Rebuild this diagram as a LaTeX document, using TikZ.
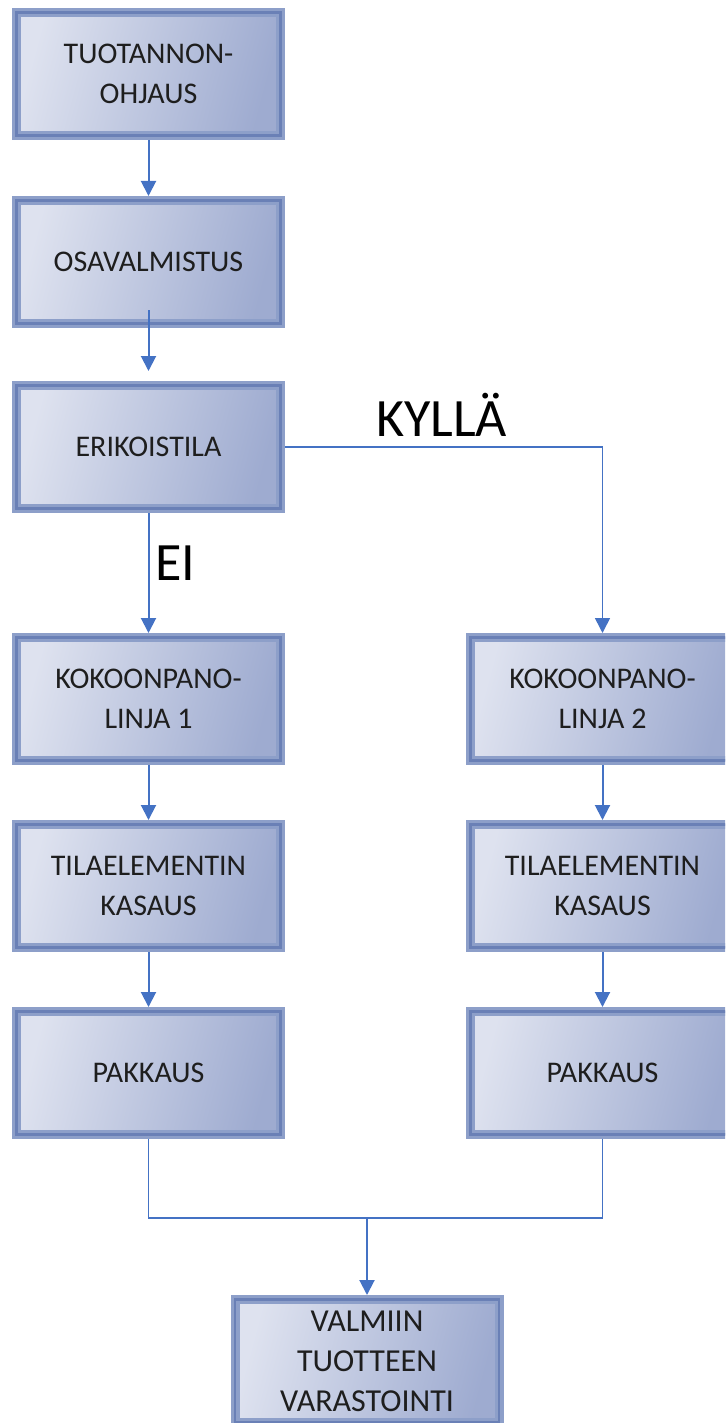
\documentclass[tikz,border=0pt]{standalone}
\usepackage{fontspec}
\setmainfont{Carlito}
\usetikzlibrary{arrows.meta,positioning}
\definecolor{boxLight}{HTML}{DEE2EF}
\definecolor{boxDark}{HTML}{9EABD0}
\definecolor{boxBand}{HTML}{8D9FC9}
\definecolor{boxLine}{HTML}{6A80B6}
\definecolor{flowBlue}{HTML}{4472C4}
\definecolor{textDark}{HTML}{1E1E1E}
\begin{document}
\begin{tikzpicture}[
  x=1pt,y=-1pt,
  font=\fontsize{30}{40}\selectfont,>={Triangle[length=15pt,width=15pt]},
  stage/.style={rectangle,draw=boxBand,line width=9pt,left color=boxLight,right color=boxDark,shading angle=75,postaction={draw=boxLine,line width=2.5pt},minimum width=264pt,minimum height=123pt,inner sep=0pt,align=center,text=textDark},
  flow/.style={->,line width=2pt,draw=flowBlue},
  link/.style={line width=1.6pt,draw=flowBlue},
  answer/.style={font=\fontsize{54}{60}\selectfont,text=black,inner sep=0pt}
]
\useasboundingbox (0,0) rectangle (725,1423);
\clip (0,0) rectangle (725,1423);
% Left column: the normal line, right column: the special-room line.
\node[stage] (control) at (148.5,74) {TUOTANNON-\\OHJAUS};
\node[stage] (parts) at (148.5,262) {OSAVALMISTUS};
\node[stage] (special) at (148.5,447) {ERIKOISTILA};
\node[stage] (lineone) at (148.5,699) {KOKOONPANO-\\LINJA 1};
\node[stage] (buildone) at (148.5,886) {TILAELEMENTIN\\KASAUS};
\node[stage] (packone) at (148.5,1073) {PAKKAUS};
\node[stage] (linetwo) at (602.5,699) {KOKOONPANO-\\LINJA 2};
\node[stage] (buildtwo) at (602.5,886) {TILAELEMENTIN\\KASAUS};
\node[stage] (packtwo) at (602.5,1073) {PAKKAUS};
\node[stage,font=\fontsize{32}{40}\selectfont] (store) at (367,1361) {VALMIIN\\TUOTTEEN\\VARASTOINTI};
\coordinate (join) at (367,1218);
\draw[flow] (control.south) -- (parts.north);
\draw[flow,shorten <=-18pt,shorten >=10pt] (parts.south) -- (special.north);
\draw[flow] (special.south) -- (lineone.north);
\draw[link,->] (special.east) -| (linetwo.north);
\draw[flow] (lineone.south) -- (buildone.north);
\draw[flow] (buildone.south) -- (packone.north);
\draw[flow] (linetwo.south) -- (buildtwo.north);
\draw[flow] (buildtwo.south) -- (packtwo.north);
\draw[link] (packone.south) |- (join) -| (packtwo.south);
\draw[flow] (join) -- (store.north);
\node[answer,anchor=south west] (yes) at (376,437) {KYLLÄ};
\node[answer,anchor=south west] (no) at (155,581) {EI};
\end{tikzpicture}
\end{document}
